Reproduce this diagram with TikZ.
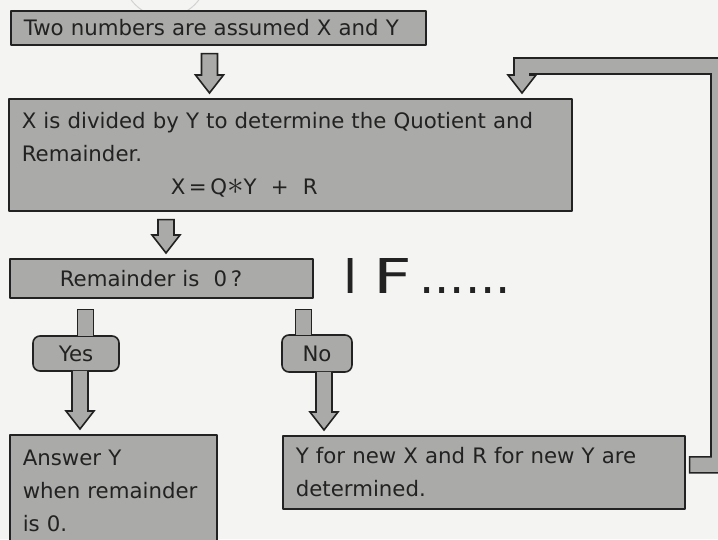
\documentclass[tikz,border=0pt]{standalone}
\usepackage{fontspec}
\setmainfont{DejaVu Sans}
\usepackage{graphicx}
\usepackage{tikz}
\usetikzlibrary{calc}
\definecolor{paper}{RGB}{244,244,242}
\definecolor{slate}{RGB}{170,170,168}
\definecolor{ink}{RGB}{34,34,34}
\tikzset{
  box/.style={draw=ink,fill=slate,line width=1.6pt,anchor=north west,inner xsep=13pt,inner ysep=0pt,
    align=left,text=ink,font=\fontsize{21.3}{33}\selectfont},
  tag/.style={draw=ink,fill=slate,line width=1.6pt,rounded corners=7pt,inner sep=0pt,text=ink,
    font=\fontsize{21.3}{24}\selectfont},
  blockarrow/.style={draw=ink,fill=slate,line width=1.6pt,line join=miter}
}
\newcommand{\flowarrow}[2]{\draw[blockarrow] ($(#1)+(-8,8)$) -- ($(#1 |- #2)+(-8,-23)$) -- ($(#1 |- #2)+(-14,-23)$)
  -- ($(#1 |- #2)+(0,-5)$) -- ($(#1 |- #2)+(14,-23)$) -- ($(#1 |- #2)+(8,-23)$) -- ($(#1)+(8,8)$) -- cycle;}
\newcommand{\flowout}[2]{\draw[blockarrow] ($(#1)+(-8,-1)$) -- ($(#1 |- #2)+(-8,-23)$) -- ($(#1 |- #2)+(-14,-23)$)
  -- ($(#1 |- #2)+(0,-5)$) -- ($(#1 |- #2)+(14,-23)$) -- ($(#1 |- #2)+(8,-23)$) -- ($(#1)+(8,-1)$);}
\newcommand{\flowin}[2]{\fill[slate] ($(#1)+(-8,11)$) rectangle ($(#1 |- #2)+(8,1)$);
  \draw[ink,line width=1.6pt,line join=miter] ($(#1 |- #2)+(-8,0.5)$) -- ($(#1)+(-8,11)$) -- ($(#1)+(8,11)$) -- ($(#1 |- #2)+(8,0.5)$);}
\newcommand{\timesmark}{\scalebox{1.6}{$\ast$}}
\begin{document}
\begin{tikzpicture}[x=1pt,y=-1pt,line join=round]
  \useasboundingbox (0,0) rectangle (718,539);
  \fill[paper] (0,0) rectangle (718,539);
  \clip (0,0) rectangle (718,539);
  \draw[gray!35,line width=1pt] (165,-25) circle (42);
  \node[box,text width=389pt,minimum height=34pt] (box1) at (10,10) {Two numbers are assumed X and Y};
  \node[box,text width=537pt,minimum height=112pt] (box2) at (8,98)
    {X is divided by Y to determine the Quotient and\\Remainder.\\\hspace*{149pt}X\,=\,Q\timesmark Y \ + \ R};
  \node[box,inner xsep=50pt,text width=203pt,minimum height=39pt] (box3) at (9,258) {Remainder is \ 0\,?};
  \node[anchor=base west,text=ink,font=\fontsize{48}{48}\selectfont] (iff) at (340,293)
    {I\hspace{16pt}\scalebox{1.4}[1]{F}\hspace{7pt}......};
  \node[tag,minimum width=86pt,minimum height=35pt] (yes) at (76,353.5) {Yes};
  \node[tag,minimum width=70pt,minimum height=37pt] (no) at (317,353.5) {No};
  \node[box,text width=181pt,minimum height=112pt] (box4) at (9,434) {Answer Y\\when remainder\\is 0.};
  \node[box,text width=376pt,minimum height=73pt] (box5) at (282,435) {Y for new X and R for new Y are\\determined.};
  \coordinate (a1) at (209.5,0 |- box1.south); \coordinate (a2) at (166,0 |- box2.south);
  \coordinate (y0) at (85.5,0 |- box3.south); \coordinate (y1) at (80,0 |- yes.south);
  \coordinate (n0) at (303.5,0 |- box3.south); \coordinate (n1) at (324,0 |- no.south);
  \coordinate (r0) at ($(box5.north east)!0.4!(box5.south east)$); \coordinate (r1) at (522,0 |- box2.north);
  \flowarrow{a1}{box2.north} \flowarrow{a2}{box3.north}
  \flowin{y0}{yes.north} \flowout{y1}{box4.north}
  \flowin{n0}{no.north} \flowout{n1}{box5.north}
  \draw[blockarrow] ($(r0)+(4,8)$) -- ($(727,0 |- r0)+(0,8)$) -- (727,58) -- (514,58) -- ($(r1)+(-8,-23)$)
    -- ($(r1)+(-14,-23)$) -- ($(r1)+(0,-5)$) -- ($(r1)+(14,-23)$) -- ($(r1)+(8,-23)$) -- (530,74) -- (711,74)
    -- ($(711,0 |- r0)+(0,-8)$) -- ($(r0)+(4,-8)$) -- cycle;
\end{tikzpicture}
\end{document}
